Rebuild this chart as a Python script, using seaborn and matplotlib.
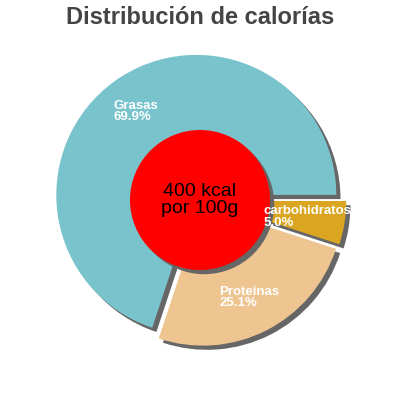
import numpy as np
import matplotlib
matplotlib.use("Agg")
import matplotlib.pyplot as plt
import seaborn as sns

labels = ["Grasas", "Proteínas", "carbohidratos"]
values = [69.9, 25.1, 5.0]
colors = ["#79C3CC", "#EEC591", "#DAA520"]
title = "Distribución de calorías"
center_text = "400 kcal\npor 100g"

sns.set_theme(style="white")
plt.rcParams["font.family"] = ["Liberation Sans", "DejaVu Sans"]

fig = plt.figure(figsize=(4, 4), dpi=100)
ax = fig.add_axes([0, 0, 1, 1])
lim = 200 / 140
ax.set_aspect("equal")
ax.axis("off")

explode = [0.045] * len(values)
shadow_off = (0.03, -0.03)

# shadow layer: gray pie drawn with a small offset
ax.pie(values, explode=explode, startangle=0, counterclock=True,
       colors=["#666666"] * len(values), center=shadow_off,
       wedgeprops=dict(linewidth=0))
wedges, _ = ax.pie(values, explode=explode, startangle=0, counterclock=True,
                   colors=colors, wedgeprops=dict(linewidth=0))
ax.set_xlim(-lim, lim)
ax.set_ylim(-lim, lim)

# slice labels at mid-angle
for w, lab, v in zip(wedges, labels, values):
    mid = np.deg2rad((w.theta1 + w.theta2) / 2)
    r = 0.78
    ax.text(r * np.cos(mid), r * np.sin(mid), f"{lab}\n{v:.1f}%",
            ha="center", va="center", multialignment="left",
            color="white", fontsize=9.5, fontweight="bold", linespacing=0.95)

# red centre with shadow
ax.add_patch(plt.Circle(shadow_off, 0.5, color="#666666", lw=0))
ax.add_patch(plt.Circle((0, 0), 0.5, color="#FF0000", lw=0))
ax.text(0, 0, center_text, ha="center", va="center", fontsize=14,
        color="black", linespacing=0.95)

fig.text(0.5, 0.955, title, ha="center", va="center", fontsize=17,
         fontweight="bold", color="#444444")

fig.savefig("out.png", dpi=100, facecolor="white")
